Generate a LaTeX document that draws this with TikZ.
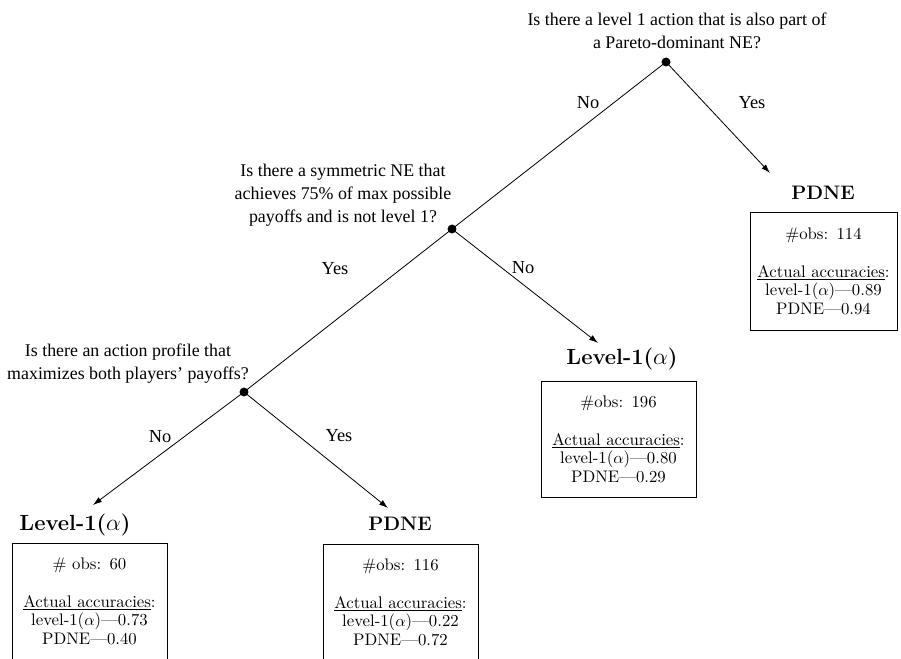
\documentclass[tikz,border=0pt]{standalone}
\usepackage{fontspec}
\newfontfamily\qfont{Liberation Serif}
\usetikzlibrary{arrows.meta}
\begin{document}
\begin{tikzpicture}[x=0.615pt,y=-0.615pt,
  q/.style={font=\qfont\fontsize{11}{14.1}\selectfont, align=center, inner sep=0},
  br/.style={font=\qfont\fontsize{11.3}{13}\selectfont, inner sep=0},
  dot/.style={circle, fill, inner sep=0, minimum size=5.5pt},
  edge/.style={line width=0.5pt},
  arr/.style={edge, -{Latex[length=5.5pt,width=3.6pt]}},
  lab/.style={font=\fontsize{12}{14}\selectfont\bfseries, inner sep=0},
  labL/.style={font=\fontsize{13.5}{15}\selectfont\bfseries, inner sep=0},
  res/.style={draw, line width=0.5pt, anchor=north, align=center,
    font=\fontsize{10.3}{11.5}\selectfont, inner xsep=0, inner ysep=0},
  resA/.style={res, text width=90.4pt, minimum height=72.6pt},
  resB/.style={res, text width=95.3pt, minimum height=71.4pt}]
\useasboundingbox (0,0) rectangle (901,659);
\clip (0,0) rectangle (901,659);

% questions
\node[q] (q1) at (677,30.5) {Is there a level 1 action that is also part of\\a Pareto-dominant NE?};
\node[q] (q2) at (343,195) {Is there a symmetric NE that\\achieves 75\% of max possible\\payoffs and is not level 1?};
\node[q] (q3) at (128,363.5) {Is there an action profile that\\maximizes both players’ payoffs?};

% split points
\node[dot] (r) at (666,62) {};
\node[dot] (d2) at (452,229) {};
\node[dot] (d3) at (244,392) {};

% arrow ends
\coordinate (t1) at (770,173);
\coordinate (t2) at (598,343);
\coordinate (t3) at (93,505);
\coordinate (t4) at (388,508);

% edges
\draw[edge] (r.center) -- (d2.center);
\draw[arr] (r.center) -- (t1);
\draw[edge] (d2.center) -- (d3.center);
\draw[arr] (d2.center) -- (t2);
\draw[arr] (d3.center) -- (t3);
\draw[arr] (d3.center) -- (t4);

% branch labels
\node[br] (n1) at (588,103) {No};
\node[br] (y1) at (752,103) {Yes};
\node[br] (y2) at (335,269) {Yes};
\node[br] (n2) at (523,268) {No};
\node[br] (n3) at (160,437) {No};
\node[br] (y3) at (339,436) {Yes};

% leaves
\node[lab] (L1) at (823,193) {PDNE};
\node[resA] (B1) at (823.5,212) {\#obs: 114\\[11.5pt]\underline{Actual accuracies}:\\level-1($\alpha$)---0.89\\PDNE---0.94};

\node[labL] (L2) at (622,359) {Level-1($\alpha$)};
\node[resB] (B2) at (618.5,381) {\#obs: 196\\[11.5pt]\underline{Actual accuracies}:\\level-1($\alpha$)---0.80\\PDNE---0.29};

\node[labL] (L3) at (75,525) {Level-1($\alpha$)};
\node[resB] (B3) at (89.5,543) {\# obs: 60\\[11.5pt]\underline{Actual accuracies}:\\level-1($\alpha$)---0.73\\PDNE---0.40};

\node[lab] (L4) at (400,524) {PDNE};
\node[resB] (B4) at (400.5,544) {\#obs: 116\\[11.5pt]\underline{Actual accuracies}:\\level-1($\alpha$)---0.22\\PDNE---0.72};
\end{tikzpicture}
\end{document}
